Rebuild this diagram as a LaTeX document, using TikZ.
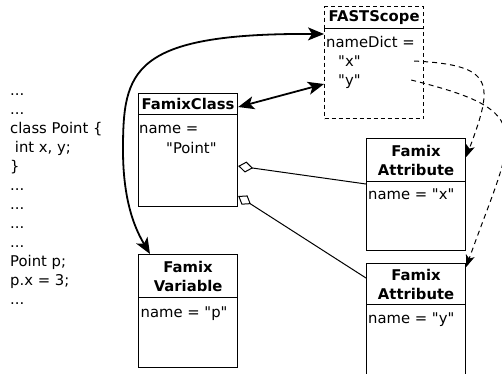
\documentclass[tikz,border=0pt]{standalone}
\usepackage{fontspec}
\setmainfont{DejaVu Sans}[Ligatures=TeXOff]
\usetikzlibrary{arrows.meta,calc}
\newcommand{\srcdots}{...}

\begin{document}
\begin{tikzpicture}[x=1pt, y=-1pt,
  every node/.style={font=\fontsize{14.8pt}{19pt}\selectfont, inner sep=0pt},
  head/.style={draw, line width=1.2pt, anchor=north west, text width=99pt, align=center,
    font=\fontsize{14.8pt}{19pt}\selectfont\bfseries},
  body/.style={draw, line width=1.2pt, anchor=north west, minimum width=99pt},
  field/.style={anchor=base west},
  scopebox/.style={dash pattern=on 4pt off 3pt},
  ref edge/.style={draw, line width=1.8pt, -{Stealth[length=16pt, width=13pt, inset=4pt]}},
  both edge/.style={ref edge, {Stealth[length=16pt, width=13pt, inset=4pt]}-{Stealth[length=16pt, width=13pt, inset=4pt]}},
  dict edge/.style={draw, line width=1pt, dash pattern=on 5pt off 4pt, -{Stealth[length=12pt, width=9pt, inset=3pt]}},
  agg edge/.style={draw, line width=1pt, -{Diamond[open, length=15pt, width=11pt]}}
]
\useasboundingbox (0,0) rectangle (502,373);
% Source code
\foreach \txt [count=\i] in {\srcdots, \srcdots, class Point \{, {\ int x, y;}, \}, \srcdots, \srcdots,
    \srcdots, \srcdots, Point p;, {p.x = 3;}, \srcdots}
  \node[field] (src\i) at (10, 76+19*\i) {\txt};
% Define the boxes
\node[head, scopebox, minimum height=22pt] (scope) at (324,6) {FASTScope};
\node[body, scopebox, minimum height=90pt] (scopeB) at (324,28) {};
\node[field] (dict) at (326,47) {nameDict =};
\node[field] (dictX) at (338,66) {"x"};
\node[field] (dictY) at (338,85) {"y"};
\node[head, minimum height=21pt] (cls) at (138,93) {FamixClass};
\node[body, minimum height=92pt] (clsB) at (138,114) {};
\node[field] (clsName) at (139,133) {name =};
\node[field] (clsVal) at (166,153) {"Point"};
\node[head, minimum height=43pt] (var) at (138,254) {Famix\\Variable};
\node[body, minimum height=70pt] (varB) at (138,297) {};
\node[field] (varName) at (140.5,317) {name = "p"};
\node[head, minimum height=43pt] (attrX) at (366,138) {Famix\\Attribute};
\node[body, minimum height=69pt] (attrXB) at (366,181) {};
\node[field] (attrXName) at (368,199) {name = "x"};
\node[head, minimum height=41pt] (attrY) at (366,263) {Famix\\Attribute};
\node[body, minimum height=80pt] (attrYB) at (366,304) {};
\node[field] (attrYName) at (368,323) {name = "y"};
% Define the edges
\draw[both edge] ($(var.north west)+(12,0)$) .. controls (137,232) and (123,205) .. (123,150)
  .. controls (123,71) and (131,33) .. ($(scopeB.north west)+(0,6)$);
\draw[both edge] ($(cls.north east)+(0,14)$) -- ($(scopeB.north west)+(0,56)$);
\draw[agg edge] ($(attrXB.north west)+(0,3)$) -- ($(clsB.north east)+(0,52)$);
\draw[agg edge] ($(attrY.north west)+(0,15)$) -- ($(clsB.north east)+(0,82)$);
\draw[dict edge] ($(scopeB.north east)+(-10,33)$) .. controls (495,65) and (494,83) .. ($(attrX.north east)+(0,19)$);
\draw[dict edge] ($(scopeB.north east)+(-13,52)$) .. controls (540,112) and (515,130) .. ($(attrY.north east)+(0,4)$);
\end{tikzpicture}
\end{document}
